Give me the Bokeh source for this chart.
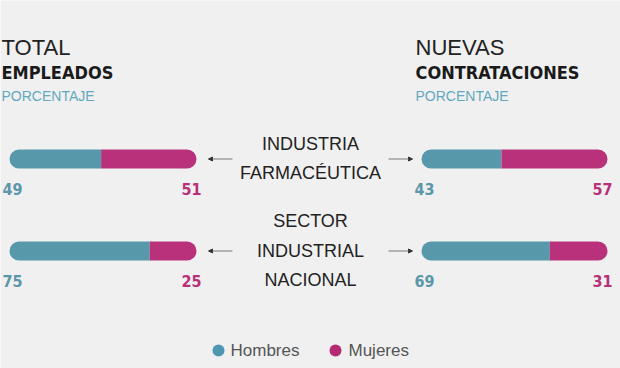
from bokeh.plotting import figure
from bokeh.models import Range1d, Arrow, NormalHead, ColumnDataSource
from bokeh.core.properties import value
from bokeh.embed import file_html
from bokeh.resources import INLINE

# ---------------- data ----------------
categories = [["INDUSTRIA", "FARMACÉUTICA"], ["SECTOR", "INDUSTRIAL", "NACIONAL"]]
total_hombres = [49, 75]
total_mujeres = [51, 25]
nuevas_hombres = [43, 69]
nuevas_mujeres = [57, 31]
series_names = ["Hombres", "Mujeres"]
panel_titles = [("TOTAL", "EMPLEADOS"), ("NUEVAS", "CONTRATACIONES")]
unit_label = "PORCENTAJE"

# ---------------- style ----------------
BG = "#f0f0f0"
TEAL = "#5799ab"
MAG = "#b9317a"
TEAL_TXT = "#5b97a9"
MAG_TXT = "#b8307a"
SUB = "#63a8be"
W, H = 620, 368
LIGHT = value("Liberation Sans")
NARROW = value("DejaVu Sans Condensed, Liberation Sans")

p = figure(width=W, height=H, output_backend="svg", toolbar_location=None,
           x_range=Range1d(0, W), y_range=Range1d(H, 0), min_border=0,
           background_fill_color=BG, border_fill_color=BG, outline_line_color=None)
p.axis.visible = False
p.grid.visible = False

row_y = [158.5, 250.5]
bar_h = 19
R = 10
panels = [
    (9, 187, total_hombres, total_mujeres),
    (421, 186, nuevas_hombres, nuevas_mujeres),
]

for (x0, span, hom, muj) in panels:
    scale = span / 100.0
    left_h = [x0] * len(hom)
    right_h = [x0 + h * scale for h in hom]
    right_m = [r + m * scale for r, m in zip(right_h, muj)]
    p.hbar(y=row_y, left=left_h, right=right_h, height=bar_h, fill_color=TEAL,
           line_color=None, border_radius=(R, 0, 0, R))
    p.hbar(y=row_y, left=right_h, right=right_m, height=bar_h, fill_color=MAG,
           line_color=None, border_radius=(0, R, R, 0))
    ny = [y + 30 for y in row_y]
    p.text(x=[x0 - 7] * len(hom), y=ny, text=[str(v) for v in hom],
           text_font=NARROW, text_font_style="bold", text_font_size="16px",
           text_color=TEAL_TXT, text_baseline="alphabetic", text_align="left")
    p.text(x=[min(r + 5, W - 6) for r in right_m], y=ny, text=[str(v) for v in muj],
           text_font=NARROW, text_font_style="bold", text_font_size="16px",
           text_color=MAG_TXT, text_baseline="alphabetic", text_align="right")

# panel titles
for (x0, _, _, _), (t1, t2) in zip(panels, panel_titles):
    tx = x0 - 8 if x0 < 100 else x0 - 6
    p.text(x=[tx], y=[47], text=[t1], text_font=LIGHT, text_font_size="22px",
           text_color="#222222", text_baseline="alphabetic")
    p.text(x=[tx], y=[72], text=[t2], text_font=NARROW, text_font_style="bold",
           text_font_size="18px", text_color="#1a1a1a", text_baseline="alphabetic")
    p.text(x=[tx], y=[95], text=[unit_label], text_font=LIGHT, text_font_size="14px",
           text_color=SUB, text_baseline="alphabetic")

# center labels and arrows
cx = 310
lh = 29.5
for lines, yc in zip(categories, row_y):
    n = len(lines)
    ys = [yc - 0.5 + (i - (n - 1) / 2) * lh for i in range(n)]
    p.text(x=[cx] * n, y=ys, text=lines, text_font=LIGHT, text_font_size="18px",
           text_color="#222222", text_align="center", text_baseline="alphabetic")
    p.add_layout(Arrow(x_start=232, y_start=yc, x_end=208, y_end=yc,
                       line_color="#777777", line_width=1,
                       end=NormalHead(size=4, fill_color="#333333", line_color="#333333")))
    p.add_layout(Arrow(x_start=388, y_start=yc, x_end=412, y_end=yc,
                       line_color="#777777", line_width=1,
                       end=NormalHead(size=4, fill_color="#333333", line_color="#333333")))

# legend
leg = ColumnDataSource(dict(x=[218, 335], tx=[230, 348], y=[350, 350],
                            name=series_names, color=["#4f96b0", "#b52a72"]))
p.scatter(x="x", y="y", size=12, fill_color="color", line_color=None, source=leg)
p.text(x="tx", y="y", text="name", source=leg, text_font=LIGHT, text_font_size="17px",
       text_color="#555555", text_baseline="middle")

open("out.html", "w").write(file_html(p, INLINE))
